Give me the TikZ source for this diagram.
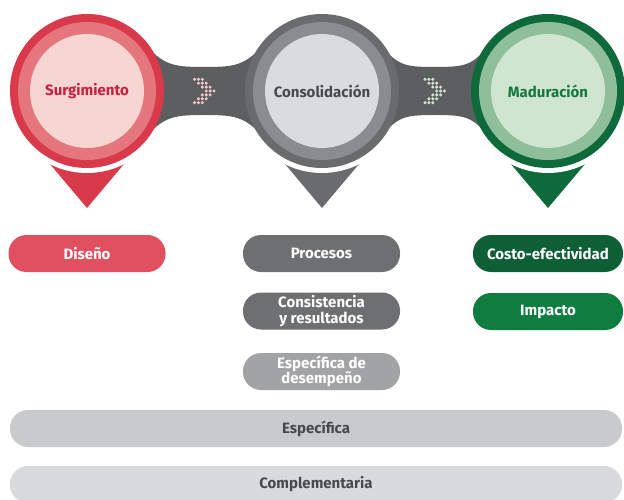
\documentclass[tikz,border=0pt]{standalone}
\usepackage{fontspec}
\setmainfont{Fira Sans}
\usetikzlibrary{calc}

\definecolor{redA}{HTML}{D93A4B}
\definecolor{redB}{HTML}{E6767D}
\definecolor{redC}{HTML}{F7D5D1}
\definecolor{redT}{HTML}{C8203E}
\definecolor{grayA}{HTML}{6A6B6D}
\definecolor{grayB}{HTML}{8B8C8E}
\definecolor{grayC}{HTML}{DADBDE}
\definecolor{grayT}{HTML}{48494B}
\definecolor{greenA}{HTML}{0F6A3B}
\definecolor{greenB}{HTML}{8EBE9A}
\definecolor{greenC}{HTML}{CFE5D0}
\definecolor{greenT}{HTML}{17783F}
\definecolor{bandgray}{HTML}{5D5E60}
\definecolor{pillred}{HTML}{E0505E}
\definecolor{pillgray}{HTML}{6E6F71}
\definecolor{pilllight}{HTML}{A2A3A5}
\definecolor{pilldkgreen}{HTML}{0E5E36}
\definecolor{pillgreen}{HTML}{0F7D3F}
\definecolor{barA}{HTML}{C8CACC}
\definecolor{barB}{HTML}{D8DADC}
\definecolor{dotpink}{HTML}{F2C9CD}
\definecolor{dotgreen}{HTML}{D3E6D6}

\newcommand{\dotchevron}[2]{%
  \foreach \r in {-3,...,3} {
    \pgfmathtruncatemacro{\s}{3-abs(\r)}
    \foreach \k in {0,1,2} {
      \fill[#2] ($(#1)+(-10+3.9*\s+3.9*\k,3.9*\r)$) circle (1.7pt);
    }
  }
}

\begin{document}
\begin{tikzpicture}[x=1pt,y=-1pt,
  stage/.style={circle, minimum size=154pt, inner sep=0pt, font=\bfseries\fontsize{15}{17}\selectfont},
  pill/.style={rounded corners=18pt, minimum width=157pt, minimum height=37pt, inner sep=0pt,
    text=white, align=center, font=\bfseries\fontsize{15}{15.5}\selectfont},
  bar/.style={rounded corners=18pt, minimum width=612pt, minimum height=37pt, inner sep=0pt,
    text=grayT, font=\bfseries\fontsize{15}{17}\selectfont}]
\clip (0,0) rectangle (624,500);

\coordinate (c1) at (87,91);
\coordinate (c2) at (322,91);
\coordinate (c3) at (548,91);
\coordinate (m1) at ($(c1)!0.5!(c2)$);
\coordinate (m2) at ($(c2)!0.5!(c3)$);

% pin tips with white gap
\foreach \c/\col in {c1/redA, c2/grayA, c3/greenA} {
  \fill[\col] ($(\c)+(-48,60)$) -- ($(\c)+(48,60)$) -- ($(\c)+(0,117)$) -- cycle;
  \fill[white] (\c) circle (82pt);
}

% bands between the stages
\foreach \a/\m/\b in {c1/m1/c2, c2/m2/c3} {
  \fill[bandgray] ($(\a)+(50,-56)$) .. controls ($(\a)+(75,-26)$) and ($(\m)+(-35,-24)$) .. ($(\m)+(0,-24)$)
    .. controls ($(\m)+(35,-24)$) and ($(\b)+(-75,-26)$) .. ($(\b)+(-50,-56)$)
    -- ($(\b)+(-50,56)$) .. controls ($(\b)+(-75,26)$) and ($(\m)+(35,24)$) .. ($(\m)+(0,24)$)
    .. controls ($(\m)+(-35,24)$) and ($(\a)+(75,26)$) .. ($(\a)+(50,56)$) -- cycle;
}
\dotchevron{m1}{dotpink}
\dotchevron{m2}{dotgreen}

% stages
\node[stage, fill=redA, text=redT, path picture={
  \fill[redB] (path picture bounding box.center) circle (69pt);
  \fill[redC] (path picture bounding box.center) circle (57pt);}] (surg) at (c1) {Surgimiento};
\node[stage, fill=grayA, text=grayT, path picture={
  \fill[grayB] (path picture bounding box.center) circle (69pt);
  \fill[grayC] (path picture bounding box.center) circle (57pt);}] (cons) at (c2) {Consolidación};
\node[stage, fill=greenA, text=greenT, path picture={
  \fill[greenB] (path picture bounding box.center) circle (69pt);
  \fill[greenC] (path picture bounding box.center) circle (57pt);}] (madu) at (c3) {Maduración};

% evaluations
\node[pill, fill=pillred] (diseno) at (87,253.5) {Diseño};
\node[pill, fill=pillgray] (procesos) at (321.5,253.5) {Procesos};
\node[pill, fill=pillgray] (consist) at (321.5,311) {Consistencia\\y resultados};
\node[pill, fill=pilllight] (desemp) at (321.5,371.5) {Específica de\\desempeño};
\node[pill, fill=pilldkgreen, minimum width=150pt] (costo) at (548,253.5) {Costo-efectividad};
\node[pill, fill=pillgreen, minimum width=150pt] (impacto) at (548,311.5) {Impacto};
\node[bar, fill=barA] (especifica) at (316,428.5) {Específica};
\node[bar, fill=barB] (complem) at (316,484.5) {Complementaria};
\end{tikzpicture}
\end{document}
